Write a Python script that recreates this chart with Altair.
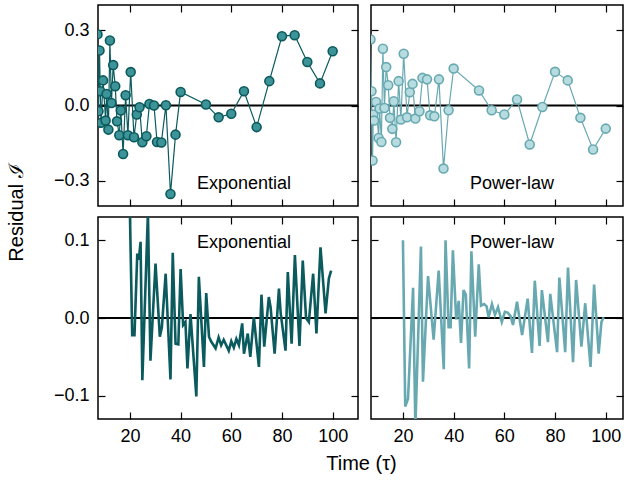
import altair as alt
import pandas as pd

# ---------------- data ----------------
t_top = [7.2, 7.6, 8.0, 8.3, 8.6, 9.4, 10.4, 10.8, 11.5, 12.1, 12.7, 13.4, 14.2,
         14.9, 15.8, 16.4, 17.3, 18.3, 19.2, 20.3, 21.6, 22.7, 23.8, 24.9, 26.5,
         27.7, 29.5, 30.7, 32.4, 34.2, 36.0, 38.0, 40.0,
         50, 55, 60, 65, 70, 75, 80, 85, 90, 95, 100]
exp_top = [0.283, -0.023, 0.219, 0.057, -0.069, 0.100, -0.060, 0.046, -0.096, 0.259,
           0.010, 0.161, 0.077, -0.063, -0.118, -0.020, -0.193, 0.041, -0.118, 0.133,
           -0.126, -0.036, -0.007, -0.146, -0.122, 0.006, 0.000, -0.145, -0.147, 0.001,
           -0.352, -0.116, 0.054,
           0.004, -0.047, -0.033, 0.057, -0.086, 0.097, 0.276, 0.280, 0.173, 0.088, 0.216]
pow_top = [0.263, 0.057, -0.219, -0.036, -0.060, 0.014, -0.129, -0.012, -0.145, 0.226,
           -0.010, 0.153, 0.081, -0.049, -0.093, 0.017, -0.146, 0.097, -0.056, 0.206,
           -0.047, 0.053, 0.086, -0.052, -0.023, 0.110, 0.104, -0.039, -0.043, 0.104,
           -0.251, -0.019, 0.147,
           0.060, -0.019, -0.036, 0.024, -0.155, -0.006, 0.134, 0.100, -0.049, -0.175, -0.092]

t_exp_bot = [20.0, 20.9, 21.8, 22.9, 23.5, 24.2, 24.9, 27.1, 28.1, 30.1, 31.8, 32.6,
             34.1, 36.0, 36.9, 38.0, 39.1, 40.0, 41.0, 41.9, 42.7, 43.9, 46.2, 47.2,
             49.2, 50.1, 51.2, 52.0, 53.8, 55.0, 56.0, 57.0, 59.0, 60.0, 61.0, 62.0,
             63.0, 64.3, 65.0, 66.5, 67.5, 68.9, 70.9, 71.9, 73.0, 74.8, 75.5, 77.1,
             78.8, 79.5, 81.4, 82.3, 83.8, 85.1, 86.9, 88.2, 89.5, 90.6, 92.3, 93.6,
             95.2, 97.2, 98.5, 99.4]
exp_bot = [0.135, -0.022, -0.022, 0.083, 0.075, 0.098, -0.080, 0.135, -0.055, 0.070,
           -0.024, -0.012, 0.057, -0.079, 0.084, -0.033, -0.034, 0.063, -0.009, -0.005,
           -0.065, 0.005, -0.101, 0.053, -0.063, 0.032, -0.024, -0.030, -0.039, -0.025,
           -0.035, -0.028, -0.042, -0.030, -0.038, -0.027, -0.035, -0.007, -0.046, -0.020,
           -0.050, 0.001, -0.063, 0.030, -0.037, 0.027, 0.014, -0.046, 0.038, 0.006,
           -0.042, 0.059, -0.033, 0.081, -0.036, 0.074, 0.000, -0.005, 0.057, -0.020,
           0.091, 0.006, 0.051, 0.061]

t_pow_bot = [20.0, 20.9, 22.0, 24.0, 24.9, 27.1, 27.9, 29.9, 32.1, 34.1, 36.1, 36.8,
             38.0, 38.8, 39.7, 41.0, 42.0, 42.9, 43.9, 44.8, 46.1, 47.0, 48.5, 49.9,
             50.8, 52.0, 53.0, 53.8, 55.1, 56.3, 57.5, 59.0, 60.2, 61.3, 62.5, 63.4,
             65.0, 66.0, 67.0, 69.2, 70.9, 72.0, 73.9, 74.8, 77.2, 78.1, 80.8, 81.7,
             84.0, 85.1, 87.1, 88.3, 90.4, 91.9, 94.0, 95.4, 97.2, 98.3, 99.2]
pow_bot = [0.100, -0.114, -0.104, 0.039, -0.140, 0.092, -0.082, 0.054, -0.028, 0.061,
           -0.066, 0.100, -0.012, -0.012, 0.087, -0.002, 0.022, -0.032, 0.036, 0.030,
           -0.065, 0.086, -0.024, 0.069, 0.016, 0.018, 0.015, 0.001, 0.018, 0.004,
           0.014, -0.005, 0.008, 0.007, 0.002, -0.009, 0.021, -0.001, -0.022, 0.025,
           -0.045, 0.048, -0.036, 0.036, -0.031, 0.031, -0.044, 0.052, -0.044, 0.065,
           -0.057, 0.049, -0.037, 0.019, -0.063, 0.043, -0.046, -0.005, 0.001]

panel_labels = ["Exponential", "Power-law"]
label_x = [65, 63]          # data-space position of the panel labels
label_y_top = -0.314
label_y_bot = 0.097
x_ticks = [20, 40, 60, 80, 100]
y_ticks_top = [-0.3, 0.0, 0.3]
y_ticks_bot = [-0.1, 0.0, 0.1]

# ---------------- styling ----------------
FONT = "Liberation Sans"
DARK = "#0b5a5d"
DARK_FILL = "#3d9498"
LIGHT = "#68a9b1"
LIGHT_FILL = "#b6dce0"
IN_TICK = {"expr": "-7"}

X_LEFT = [7.4, 110]
X_RIGHT = [7.4, 106.8]
Y_TOP = [-0.4, 0.4]
Y_BOT = [-0.13, 0.13]


def panel(t, v, row, col, label, lx, ly, color, fill, w, h, xdom, ydom, yticks):
    xs = alt.Scale(domain=xdom, nice=False, zero=False)
    ys = alt.Scale(domain=ydom, nice=False, zero=False)
    df = pd.DataFrame({"t": t, "v": v})
    zero = pd.DataFrame({"y": [0.0]})
    lab = pd.DataFrame({"lx": [lx], "ly": [ly], "label": [label]})

    x_kw = dict(orient="bottom", values=x_ticks, labels=(row == 1), tickSize=IN_TICK,
                labelPadding=15, domain=False, grid=False, format="d",
                tickColor="black", tickWidth=1.2)
    y_kw = dict(orient="left", values=yticks, labels=(col == 0), tickSize=IN_TICK,
                labelPadding=16, domain=False, grid=False, format=".1f",
                tickColor="black", tickWidth=1.2)
    x_title = None
    y_title = None
    if row == 1 and col == 0:
        x_title = "Time (τ)"
        x_kw.update(titleX=263, titlePadding=8)
    if row == 0 and col == 0:
        y_title = "Residual ℐ"
        y_kw.update(titleX=-72, titleY=207, titleAnchor="middle")

    rule = alt.Chart(zero).mark_rule(color="black", strokeWidth=2).encode(
        y=alt.Y("y:Q", scale=ys, axis=None)
    )
    main_x = alt.X("t:Q", scale=xs, axis=alt.Axis(**x_kw), title=x_title)
    main_y = alt.Y("v:Q", scale=ys, axis=alt.Axis(**y_kw), title=y_title)
    if row == 0:
        line = alt.Chart(df).mark_line(color=color, strokeWidth=1.2, clip=True).encode(
            x=main_x, y=main_y)
        pts = alt.Chart(df).mark_circle(size=80, color=fill, stroke=color, strokeWidth=1.6,
                                        opacity=1, clip=True).encode(
            x=alt.X("t:Q", scale=xs, axis=None), y=alt.Y("v:Q", scale=ys, axis=None))
        layers = [rule, line, pts]
    else:
        line = alt.Chart(df).mark_line(color=color, strokeWidth=2.6, clip=True).encode(
            x=main_x, y=main_y)
        layers = [rule, line]
    txt = alt.Chart(lab).mark_text(font=FONT, fontSize=18, color="black").encode(
        x=alt.X("lx:Q", scale=xs, title=None,
                axis=alt.Axis(orient="top", values=x_ticks, labels=False, tickSize=IN_TICK,
                              domain=False, grid=False, tickColor="black", tickWidth=1.2)),
        y=alt.Y("ly:Q", scale=ys, title=None,
                axis=alt.Axis(orient="right", values=yticks, labels=False, tickSize=IN_TICK,
                              domain=False, grid=False, tickColor="black", tickWidth=1.2)),
        text="label:N",
    )
    layers.append(txt)
    return alt.layer(*layers).resolve_axis(x="independent", y="independent").properties(
        width=w, height=h)


tl = panel(t_top, exp_top, 0, 0, panel_labels[0], label_x[0], label_y_top, DARK, DARK_FILL,
           260, 201, X_LEFT, Y_TOP, y_ticks_top)
tr = panel(t_top, pow_top, 0, 1, panel_labels[1], label_x[1], label_y_top, LIGHT, LIGHT_FILL,
           252, 201, X_RIGHT, Y_TOP, y_ticks_top)
bl = panel(t_exp_bot, exp_bot, 1, 0, panel_labels[0], label_x[0], label_y_bot, DARK, DARK,
           260, 202, X_LEFT, Y_BOT, y_ticks_bot)
br = panel(t_pow_bot, pow_bot, 1, 1, panel_labels[1], label_x[1], label_y_bot, LIGHT, LIGHT,
           252, 202, X_RIGHT, Y_BOT, y_ticks_bot)

chart = alt.concat(
    tl, tr, bl, br, columns=2, spacing=alt.RowColnumber(row=11, column=13),
    bounds="flush",
).properties(
    padding={"left": 5, "top": 3, "right": 0, "bottom": 0},
    background="white",
).configure_view(
    stroke="black", strokeWidth=1.5
).configure_axis(
    labelFont=FONT, labelFontSize=18, labelColor="black",
    titleFont=FONT, titleFontSize=20, titleFontWeight="normal", titleColor="black",
)

chart.save("out.html", embed_options={"renderer": "svg", "actions": False})
